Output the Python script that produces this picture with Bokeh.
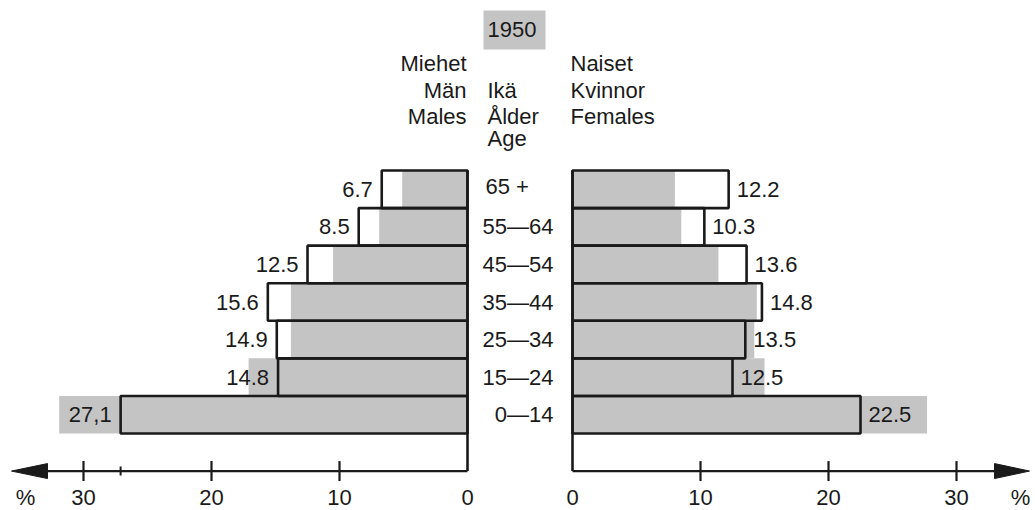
import numpy as np
from bokeh.plotting import figure
from bokeh.models import Range1d
from bokeh.core.properties import value
from bokeh.embed import file_html
from bokeh.resources import INLINE

# ---------------- data ----------------
ages = ["0—14", "15—24", "25—34", "35—44", "45—54", "55—64", "65 +"]
males = [27.1, 14.8, 14.9, 15.6, 12.5, 8.5, 6.7]
females = [22.5, 12.5, 13.5, 14.8, 13.6, 10.3, 12.2]
males_labels = ["27,1", "14.8", "14.9", "15.6", "12.5", "8.5", "6.7"]
females_labels = ["22.5", "12.5", "13.5", "14.8", "13.6", "10.3", "12.2"]
males_shaded = [31.9, 17.1, 13.8, 13.8, 10.5, 6.9, 5.1]
females_shaded = [27.7, 15.0, 14.2, 14.4, 11.4, 8.5, 8.0]
axis_ticks = [10, 20, 30]
axis_tick_labels = ["0", "10", "20", "30"]
axis_label_values = [0, 10, 20, 30]
male_marks = [27.1]
year = "1950"
male_head = ["Miehet", "Män", "Males"]
age_head = ["Ikä", "Ålder", "Age"]
female_head = ["Naiset", "Kvinnor", "Females"]

# ---------------- geometry ----------------
W, H = 1035, 510
PX = 12.8          # pixels per percent
ROW = 37.57        # pixels per age row
G = 52.5 / PX      # half gap between the two sides, in percent units
INK = "#1a1a1a"
GREY = "#c4c4c4"
FONT = value("Liberation Sans")
FS = "22px"


def dx(sx):
    return (sx - 519.5) / PX


def dy(sy):
    return 0.5 + (433 - sy) / ROW


p = figure(width=W, height=H, output_backend="svg", toolbar_location=None,
           x_range=Range1d(dx(0), dx(W)), y_range=Range1d(dy(H), dy(0)),
           x_axis_location=None, y_axis_location=None, min_border=0,
           background_fill_color="white", border_fill_color="white")
p.grid.visible = False
p.outline_line_color = None

yr = np.arange(1, len(ages) + 1)
m = np.array(males)
f = np.array(females)
ms = np.array(males_shaded)
fs = np.array(females_shaded)
top = len(ages) + 0.5
axis_y = 0.5 - 1.0

# shaded bars
p.hbar(y=yr, left=-(G + ms), right=-G, height=1, fill_color=GREY, line_color=None)
p.hbar(y=yr, left=G, right=G + fs, height=1, fill_color=GREY, line_color=None)

# outlined bars
p.hbar(y=yr, left=-(G + m), right=-G, height=1, fill_color=None,
       line_color=INK, line_width=2.6)
p.hbar(y=yr, left=G, right=G + f, height=1, fill_color=None,
       line_color=INK, line_width=2.6)

# vertical base lines
p.segment(x0=[-G, G], y0=[axis_y, axis_y], x1=[-G, G], y1=[top, top],
          line_color=INK, line_width=2.6)

# horizontal axes
p.segment(x0=[-G, G], y0=[axis_y, axis_y], x1=[dx(45), dx(997)], y1=[axis_y, axis_y],
          line_color=INK, line_width=2.2)
hh = 7.5 / ROW
p.patches(xs=[[dx(11), dx(47), dx(47)], [dx(1029), dx(994), dx(994)]],
          ys=[[axis_y, axis_y + hh, axis_y - hh], [axis_y, axis_y + hh, axis_y - hh]],
          fill_color=INK, line_color=INK, line_width=1)

# ticks
t = np.array(axis_ticks, dtype=float)
tk = 10 / ROW
p.segment(x0=-(G + t), y0=axis_y - tk, x1=-(G + t), y1=axis_y + tk, line_color=INK, line_width=2.2)
p.segment(x0=G + t, y0=axis_y - tk, x1=G + t, y1=axis_y + tk, line_color=INK, line_width=2.2)
mk = np.array(male_marks)
p.segment(x0=-(G + mk), y0=axis_y - 4.5 / ROW, x1=-(G + mk), y1=axis_y + 4.5 / ROW,
          line_color=INK, line_width=2.0)

# tick labels
lv = np.array(axis_label_values, dtype=float)
ly = dy(497)
p.text(x=-(G + lv), y=[ly] * len(lv), text=axis_tick_labels, text_align="center",
       text_baseline="middle", text_font=FONT, text_font_size=FS, text_color=INK)
p.text(x=G + lv, y=[ly] * len(lv), text=axis_tick_labels, text_align="center",
       text_baseline="middle", text_font=FONT, text_font_size=FS, text_color=INK)
p.text(x=[dx(25), dx(1020)], y=[ly, ly], text=["%", "%"], text_align="center",
       text_baseline="middle", text_font=FONT, text_font_size=FS, text_color=INK)

# value labels
p.text(x=-(G + m), y=yr, text=males_labels, text_align="right", text_baseline="middle",
       x_offset=-9, text_font=FONT, text_font_size=FS, text_color=INK)
p.text(x=G + f, y=yr, text=females_labels, text_align="left", text_baseline="middle",
       x_offset=8, text_font=FONT, text_font_size=FS, text_color=INK)

# age labels
p.text(x=[dx(553)] * (len(ages) - 1), y=yr[:-1], text=ages[:-1], text_align="right",
       text_baseline="middle", text_font=FONT, text_font_size=FS, text_color=INK)
p.text(x=[dx(485)], y=yr[-1:], text=ages[-1:], text_align="left",
       text_baseline="middle", y_offset=-3, text_font=FONT, text_font_size=FS, text_color=INK)

# header
p.quad(left=[dx(483)], right=[dx(545)], top=[dy(10)], bottom=[dy(49)],
       fill_color=GREY, line_color=None)
p.text(x=[dx(511.5)], y=[dy(29)], text=[year], text_align="center",
       text_baseline="middle", text_font=FONT, text_font_size=FS, text_color=INK)
p.text(x=[dx(466)] * 3, y=[dy(62.5), dy(89.5), dy(115.5)], text=male_head, text_align="right",
       text_baseline="middle", text_font=FONT, text_font_size=FS, text_color=INK)
p.text(x=[dx(487)] * 3, y=[dy(90), dy(115.5), dy(138)], text=age_head, text_align="left",
       text_baseline="middle", text_font=FONT, text_font_size=FS, text_color=INK)
p.text(x=[dx(570)] * 3, y=[dy(62.5), dy(89.5), dy(115.5)], text=female_head, text_align="left",
       text_baseline="middle", text_font=FONT, text_font_size=FS, text_color=INK)

open("out.html", "w").write(file_html(p, INLINE))
